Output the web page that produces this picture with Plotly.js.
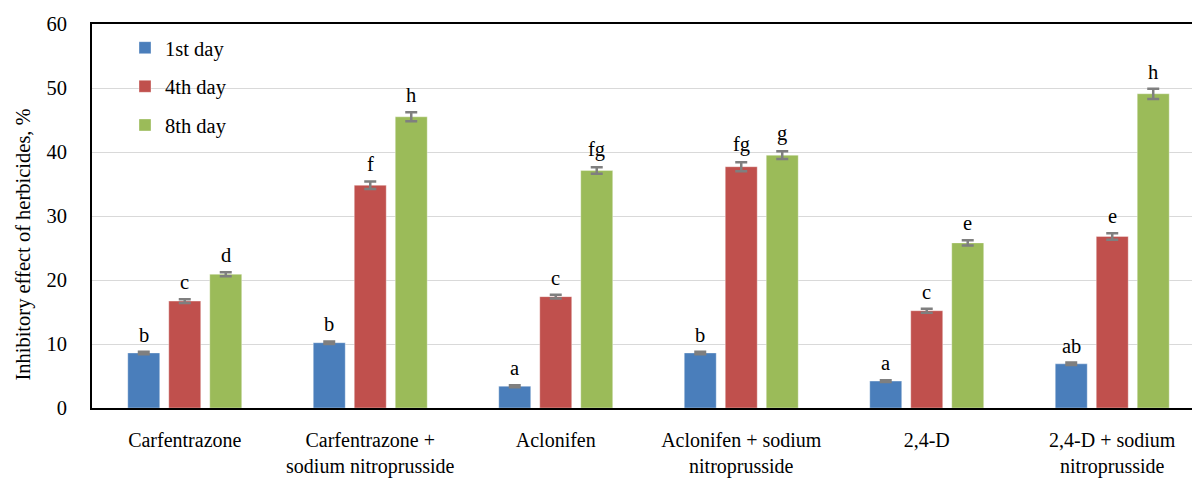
<!DOCTYPE html>
<html>
<head>
<meta charset="utf-8">
<script src="https://cdn.plot.ly/plotly-3.0.1.min.js"></script>
<style>html,body{margin:0;padding:0;background:#fff;}#chart{width:1192px;height:478px;}</style>
</head>
<body>
<div id="chart"></div>
<script>
const categories = [
  "Carfentrazone",
  "Carfentrazone +<br>sodium nitroprusside",
  "Aclonifen",
  "Aclonifen + sodium<br>nitroprusside",
  "2,4-D",
  "2,4-D + sodium<br>nitroprusside"
];
const seriesNames = ["1st day", "4th day", "8th day"];
const day1 = [8.6, 10.2, 3.4, 8.6, 4.2, 6.9];
const day4 = [16.7, 34.8, 17.4, 37.7, 15.2, 26.8];
const day8 = [20.9, 45.5, 37.1, 39.5, 25.8, 49.1];
const err1 = [0.2, 0.2, 0.15, 0.2, 0.15, 0.2];
const err4 = [0.3, 0.6, 0.3, 0.7, 0.3, 0.5];
const err8 = [0.3, 0.7, 0.5, 0.6, 0.4, 0.8];
const letters1 = ["b", "b", "a", "b", "a", "ab"];
const letters4 = ["c", "f", "c", "fg", "c", "e"];
const letters8 = ["d", "h", "fg", "g", "e", "h"];
const colors = ["#4a7ebb", "#c0504d", "#9bbb59"];

const values = [day1, day4, day8];
const errors = [err1, err4, err8];
const letters = [letters1, letters4, letters8];

const bargap = 0.337;
const bargroupgap = 0.22;
const FONT = "'Liberation Serif', 'Times New Roman', Times, serif";
const FS = 20.5;

const idx = categories.map((_, i) => i);

const traces = values.map((v, s) => ({
  type: "bar",
  name: seriesNames[s],
  legendgroup: "g" + s,
  x: idx,
  y: v,
  marker: {color: colors[s], line: {color: "rgba(255,255,255,0.35)", width: 1}},
  error_y: {type: "data", array: errors[s], visible: true, color: "#7f7f7f", thickness: 2.5, width: 6},
  hoverinfo: "y+name"
}));

const slot = (1 - bargap) / 3;
const annotations = [];
values.forEach((v, s) => {
  v.forEach((val, i) => {
    annotations.push({
      x: i + (s - 1) * slot,
      y: val + errors[s][i],
      xref: "x", yref: "y",
      text: letters[s][i],
      showarrow: false,
      yanchor: "bottom",
      yshift: 4,
      font: {family: FONT, size: FS, color: "#000"}
    });
  });
});
annotations.push({
  xref: "paper", yref: "paper",
  x: -0.062, y: 0.425,
  text: "Inhibitory effect of herbicides, %",
  textangle: -90,
  showarrow: false,
  xanchor: "center", yanchor: "middle",
  font: {family: FONT, size: FS, color: "#000"}
});

const layout = {
  width: 1192, height: 478,
  margin: {l: 92, r: 0, t: 24, b: 70},
  paper_bgcolor: "#fff",
  plot_bgcolor: "#fff",
  barmode: "group",
  bargap: bargap,
  bargroupgap: bargroupgap,
  font: {family: FONT, size: FS, color: "#000"},
  showlegend: true,
  legend: {
    x: 0.03, y: 0.99, xanchor: "left", yanchor: "top",
    bgcolor: "rgba(0,0,0,0)",
    font: {family: FONT, size: FS, color: "#000"},
    tracegroupgap: 9,
    itemwidth: 30
  },
  xaxis: {
    type: "linear",
    range: [-0.5, 5.43],
    tickmode: "array",
    tickvals: idx,
    ticktext: categories,
    showgrid: false,
    zeroline: false,
    showline: true,
    linecolor: "#000",
    linewidth: 2,
    mirror: true,
    ticks: "",
    ticklabelstandoff: 13,
    tickfont: {family: FONT, size: 20, color: "#000"}
  },
  yaxis: {
    range: [0, 60],
    tickvals: [0, 10, 20, 30, 40, 50, 60],
    showgrid: true,
    gridcolor: "#d9d9d9",
    gridwidth: 1,
    zeroline: false,
    showline: true,
    linecolor: "#000",
    linewidth: 2,
    ticks: "",
    ticklabelstandoff: 19,
    tickfont: {family: FONT, size: FS, color: "#000"}
  },
  annotations: annotations
};

Plotly.newPlot("chart", traces, layout, {displayModeBar: false, staticPlot: true});
</script>
</body>
</html>
